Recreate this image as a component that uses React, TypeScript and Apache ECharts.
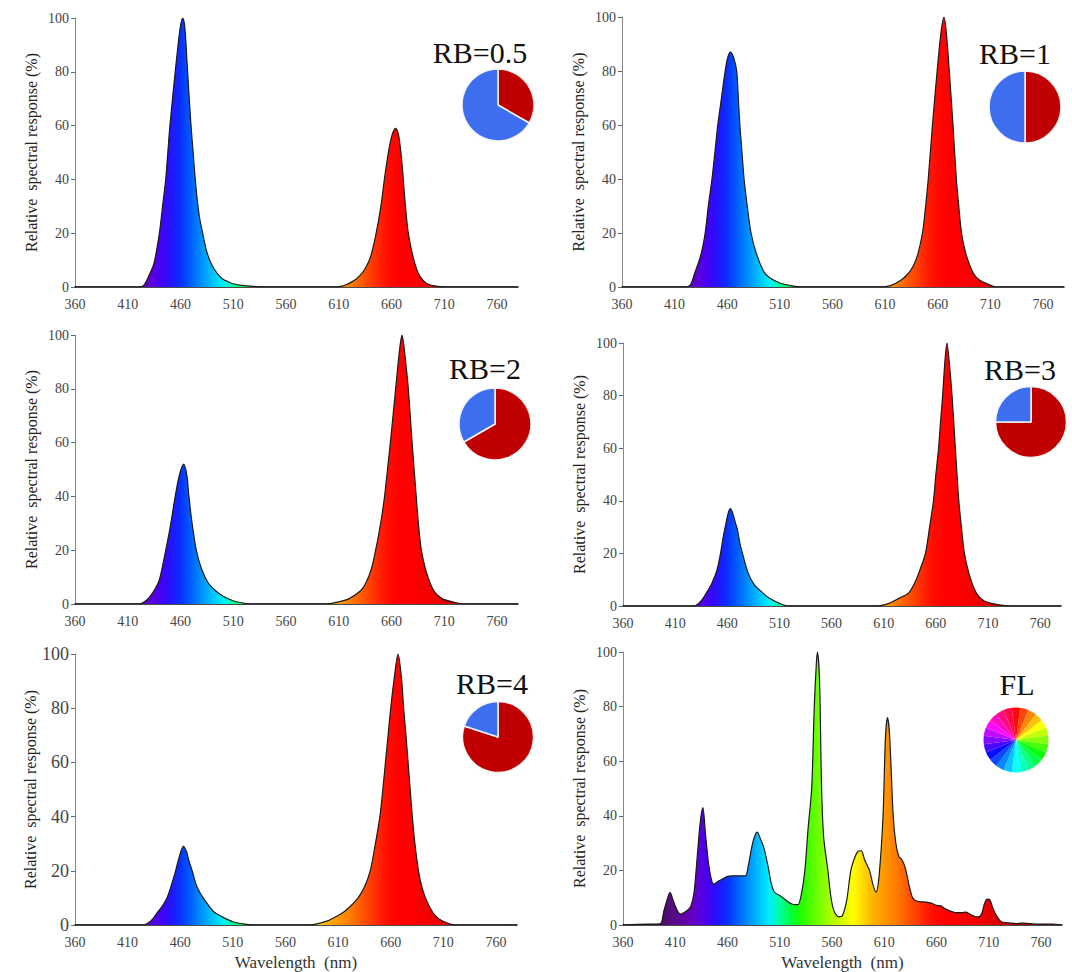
import React, { useEffect, useRef } from "react";
import * as echarts from "echarts";

// ---------- data ----------
const X_MIN = 360;
const X_MAX = 780;
const X_STEP = 50;
const Y_MAX = 100;
const Y_STEP = 20;

const panelTitles = ["RB=0.5", "RB=1", "RB=2", "RB=3", "RB=4", "FL"];

// red : blue proportions for the small pies
const pieRed = [1, 1, 2, 3, 4];
const pieBlue = [2, 1, 1, 1, 1];

const specRB05: [number, number][] = [
  [360, 0], [420, 0], [425, 0.5], [431, 5], [435, 9], [440, 20], [443, 30], [446, 40], [450, 60],
  [455, 80], [458, 91], [460, 97], [462, 100], [464, 97], [466, 85], [468, 72], [470, 60], [472, 50],
  [474, 40], [476, 32], [478, 26], [481, 20], [485, 13], [490, 8], [495, 5], [500, 3], [505, 2],
  [510, 1.2], [520, 0.5], [530, 0.2], [540, 0],
  [605, 0], [615, 0.5], [625, 2.5], [630, 4.2], [635, 6.8], [640, 11], [645, 19], [650, 30], [654, 42],
  [658, 52], [661, 57], [664, 59], [667, 56], [670, 46], [672, 36], [674, 27], [676, 20], [680, 12],
  [685, 5.5], [690, 2.5], [695, 1], [700, 0.5], [710, 0], [780, 0],
];

const specRB1: [number, number][] = [
  [360, 0], [420, 0], [425, 0.8], [429, 5], [435, 12], [439, 20], [442, 30], [445.5, 40], [448.3, 50],
  [451, 60], [454.5, 70], [458, 80], [460.5, 85], [463, 87], [466, 85], [469, 80], [470.5, 70],
  [472, 60], [474, 50], [476, 40], [479, 30], [482.6, 20], [488, 12], [495, 5.5], [500, 3.5],
  [510, 1.5], [520, 0.5], [530, 0],
  [605, 0], [615, 0.5], [625, 2.5], [632, 5], [637, 8], [641, 12], [645.5, 20], [648, 28], [651, 40],
  [655, 60], [659, 78], [663, 94], [666, 100], [668, 95], [671, 80], [674.5, 60], [677.7, 40], [680, 30],
  [682.6, 20], [687, 12], [694, 5], [700, 2.5], [708, 1], [715, 0], [780, 0],
];

const specRB2: [number, number][] = [
  [360, 0], [420, 0], [428, 1.5], [435, 5], [440, 9], [446, 20], [450, 28], [455, 40], [459, 48],
  [463, 52], [466, 48], [468, 40], [471, 30], [475, 20], [480, 13], [486, 8], [493, 5], [500, 3],
  [510, 1.2], [520, 0.3], [525, 0],
  [598, 0], [610, 0.8], [620, 2], [631, 5], [636, 8], [641, 13], [645, 20], [648, 26], [651, 33],
  [653.5, 40], [656, 49], [659, 60], [661.5, 70], [664, 80], [666.5, 90], [668.5, 97], [670, 100],
  [671.5, 97], [673.5, 90], [676, 80], [679.6, 60], [683.5, 40], [686, 28], [688.4, 20], [693, 12],
  [700, 5], [708, 2], [718, 0.8], [729, 0], [780, 0],
];

const specRB3: [number, number][] = [
  [360, 0], [428, 0], [435, 2], [440, 5], [445, 8.5], [450, 13.5], [453.5, 20], [456, 26], [458.5, 31],
  [461, 35.5], [463, 37], [465, 35.5], [467.5, 32], [469.7, 29], [472, 24], [474.5, 20], [480, 12.5],
  [486, 8], [494, 5], [500, 3], [510, 1], [518, 0],
  [602, 0], [615, 1], [625, 3], [634, 5], [640, 9], [645, 14], [650, 20], [654, 30], [657.7, 40],
  [660, 50], [662.6, 60], [664.5, 70], [666.5, 80], [668.5, 92], [670.6, 100], [673, 92], [675.5, 80],
  [678.7, 60], [682, 40], [684.5, 30], [687.4, 20], [692, 12], [698.7, 5], [706, 2], [716, 0.8],
  [731, 0], [780, 0],
];

const specRB4: [number, number][] = [
  [360, 0], [424, 0], [432, 1.5], [439, 5], [443, 7], [447.4, 10], [451, 14], [455.6, 20], [459, 25],
  [463, 29], [466, 27], [468, 24], [471.3, 20], [476, 14], [481.8, 10], [491.6, 5], [500, 3],
  [510, 1.2], [520, 0.4], [529, 0],
  [583, 0], [600, 1.5], [610, 3.5], [616, 5], [622, 7], [629, 10], [635, 14], [640.5, 20], [645, 29],
  [649.7, 40], [652.5, 50], [655, 60], [657.5, 70], [660, 80], [663, 90], [667, 100], [670, 92],
  [672.3, 80], [674.5, 70], [676.5, 60], [678.5, 50], [680.5, 40], [683, 30], [686.4, 20], [689, 15],
  [693, 10], [699.4, 5], [705, 2.5], [712, 1], [721, 0], [780, 0],
];

const specFL: [number, number][] = [
  [360, 0], [384, 0.3], [390, 0.3], [396, 0.5], [399, 5], [402, 9], [405, 12], [408, 9], [411, 6],
  [414.6, 4], [418, 4.5], [422, 5.5], [425, 7], [428, 12], [431, 25], [434, 38], [436.4, 43], [439, 33],
  [442, 22], [445, 16], [447, 15], [451, 16], [456, 17], [460, 17.8], [464, 18], [470, 18], [477, 18],
  [480, 22], [484, 30], [487, 33.5], [488.5, 34], [491, 32], [495, 28], [499, 21], [502, 15], [505, 12],
  [510, 10.8], [514.5, 9.5], [520, 8], [524, 7.5], [527.5, 7.5], [531, 12], [534, 20], [537, 35],
  [540.5, 50], [543, 80], [545, 96], [546, 100], [548, 90], [550, 50], [552, 32], [556, 20], [559, 10],
  [562, 5], [566.5, 3], [570, 3.5], [574, 9], [578, 20], [582, 25], [585, 27], [588, 27.2], [591, 24],
  [595.8, 20], [599, 15], [602, 12], [605, 18], [608.8, 40], [611, 68], [613, 76], [615, 70],
  [618.5, 40], [621, 30], [624, 25], [626.7, 24], [630, 21], [634, 14], [637, 10], [639.7, 9], [645, 8.5],
  [650, 8.4], [655, 8], [660, 7.2], [664, 7], [668, 6], [672, 5.3], [676, 4.7], [680, 4.5], [684, 4.5],
  [688, 4.7], [692, 4], [696, 3.2], [700, 3], [703, 4], [706, 8], [708.5, 9.5], [711, 9.2], [714, 6],
  [718, 3], [721, 1.5], [724, 1], [730, 0.7], [736, 0.5], [742, 0.7], [750, 0.5], [762, 0.3], [770, 0.3],
  [780, 0],
];

const spectra = [specRB05, specRB1, specRB2, specRB3, specRB4, specFL];

// ---------- styling ----------
// wavelength colours, 360..780 nm in 10 nm steps
const WL_COLORS = [
  "#1e0530", "#2a0840", "#360a50", "#420b60", "#4e0c70", "#5a0c88", "#6400a8", "#6000d0", "#4800f0",
  "#2810ff", "#0830ff", "#0060ff", "#0090ff", "#00c0ff", "#00f0ff", "#00ffa0", "#00ff40", "#20ff00",
  "#50ff00", "#80ff00", "#b0ff00", "#d8ff00", "#ffff00", "#ffd800", "#ffb000", "#ff9800", "#ff8000",
  "#ff6000", "#ff4000", "#ff2000", "#ff0800", "#ff0000", "#ff0000", "#f80000", "#f00000", "#e80000",
  "#d80000", "#c80000", "#b80000", "#a80000", "#980000", "#880000", "#780000",
];

const FONT = '"Liberation Serif", "Times New Roman", serif';

const GRIDS = [
  { left: 75, top: 18, width: 443, height: 269 },
  { left: 622, top: 17, width: 442, height: 270 },
  { left: 75, top: 335, width: 443, height: 269 },
  { left: 623, top: 343, width: 438, height: 263 },
  { left: 75, top: 654, width: 442, height: 271 },
  { left: 623, top: 652, width: 439, height: 273 },
];

const TITLE_POS = [
  [480, 52], [1015, 53], [485, 368], [1020, 369], [492, 683], [1017, 684],
];
const PIE_POS = [
  [498, 105, 36], [1025, 107, 36], [495, 424, 36], [1031, 422, 35.5], [498, 737, 35.5], [1016, 740, 32.5],
];

const RED = "#c00000";
const BLUE = "#3d6ef0";

export default function App() {
  const ref = useRef<HTMLDivElement>(null);

  useEffect(() => {
    if (!ref.current) return;
    const chart = echarts.init(ref.current, undefined, { renderer: "svg" });

    const grid = GRIDS.map((g) => ({ ...g, containLabel: false }));

    const xAxis = GRIDS.map((_, i) => ({
      type: "value",
      gridIndex: i,
      min: X_MIN,
      max: X_MAX,
      interval: X_STEP,
      name: i >= 4 ? "Wavelength  (nm)" : "",
      nameLocation: "middle",
      nameGap: 29,
      nameTextStyle: { fontFamily: FONT, fontSize: 17, color: "#333" },
      axisLine: { show: true, onZero: false, lineStyle: { color: "#111", width: 1.5 } },
      axisTick: { show: false },
      splitLine: { show: false },
      axisLabel: {
        showMaxLabel: false,
        fontFamily: FONT,
        fontSize: 14,
        color: "#444",
        margin: 10,
      },
    }));

    const yAxis = GRIDS.map((_, i) => ({
      type: "value",
      gridIndex: i,
      min: 0,
      max: Y_MAX,
      interval: Y_STEP,
      name: "Relative  spectral response (%)",
      nameLocation: "middle",
      nameGap: 36,
      nameTextStyle: { fontFamily: FONT, fontSize: 16, color: "#222" },
      axisLine: { show: true, lineStyle: { color: "#888", width: 1 } },
      axisTick: { show: true, length: 4, lineStyle: { color: "#666" } },
      splitLine: { show: false },
      axisLabel: {
        fontFamily: FONT,
        fontSize: i === 4 ? 18 : 14,
        color: "#444",
        margin: 6,
      },
    }));

    const lineSeries = spectra.map((d, i) => ({
      type: "line",
      xAxisIndex: i,
      yAxisIndex: i,
      data: d,
      smooth: 0.3,
      showSymbol: false,
      symbol: "none",
      silent: true,
      lineStyle: { color: "#1a1a1a", width: 1.2 },
      areaStyle: { opacity: 1 },
      z: 2,
    }));

    const pieSeries: any[] = pieRed.map((r, i) => ({
      type: "pie",
      center: [PIE_POS[i][0], PIE_POS[i][1]],
      radius: [0, PIE_POS[i][2]],
      startAngle: 90,
      clockwise: true,
      silent: true,
      label: { show: false },
      labelLine: { show: false },
      itemStyle: { borderColor: "#f4f4f4", borderWidth: 1.5 },
      data: [
        { value: r, name: "R", itemStyle: { color: RED } },
        { value: pieBlue[i], name: "B", itemStyle: { color: BLUE } },
      ],
    }));

    // FL colour wheel
    const wheelCount = 24;
    const wheelData = Array.from({ length: wheelCount }, (_, k) => ({
      value: 1,
      itemStyle: { color: `hsl(${(k * 360) / wheelCount}, 100%, 52%)` },
    }));
    pieSeries.push({
      type: "pie",
      center: [PIE_POS[5][0], PIE_POS[5][1]],
      radius: [0, PIE_POS[5][2]],
      startAngle: 90 + 360 / wheelCount / 2,
      clockwise: true,
      silent: true,
      label: { show: false },
      labelLine: { show: false },
      itemStyle: { borderWidth: 0 },
      data: wheelData,
    });

    const visualMap = spectra.map((_, i) => ({
      type: "continuous",
      show: false,
      seriesIndex: i,
      dimension: 0,
      min: X_MIN,
      max: X_MAX,
      inRange: { color: WL_COLORS },
    }));

    const graphic = panelTitles.map((t, i) => ({
      type: "text",
      x: TITLE_POS[i][0],
      y: TITLE_POS[i][1],
      silent: true,
      style: {
        text: t,
        font: `30px ${FONT}`,
        fill: "#111",
        textAlign: "center",
        textVerticalAlign: "middle",
      },
    }));

    chart.setOption({
      animation: false,
      backgroundColor: "#ffffff",
      grid,
      xAxis,
      yAxis,
      visualMap,
      series: [...lineSeries, ...pieSeries],
      graphic,
    } as any);

    return () => chart.dispose();
  }, []);

  return (
    <div
      ref={ref}
      style={{ position: "absolute", left: 0, top: 0, width: 1072, height: 972, background: "#fff" }}
    />
  );
}
